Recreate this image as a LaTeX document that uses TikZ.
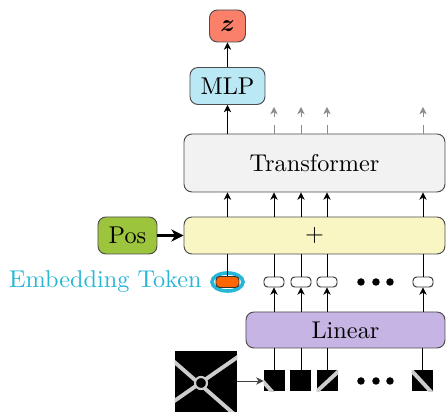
\documentclass[tikz,border=0pt]{standalone}
\usepackage{bm}
\usetikzlibrary{arrows.meta,shapes.geometric}
\newlength\pxu
\setlength\pxu{0.412pt}
\definecolor{zcol}{RGB}{250,128,106}
\definecolor{mlpcol}{RGB}{187,232,245}
\definecolor{trcol}{RGB}{242,242,242}
\definecolor{pluscol}{RGB}{250,246,196}
\definecolor{poscol}{RGB}{157,196,61}
\definecolor{lincol}{RGB}{198,181,228}
\definecolor{embcyan}{RGB}{38,182,214}
\definecolor{tokorange}{RGB}{255,102,0}
\definecolor{stripecol}{RGB}{205,205,205}
\begin{document}
\begin{tikzpicture}[x=0.412pt,y=-0.412pt,
  box/.style={draw=black!70, rounded corners=3.3pt, inner sep=0pt, line width=0.4pt},
  tokbox/.style={draw=black!80, rounded corners=1.5pt, inner sep=0pt, fill=white,
    minimum width=20\pxu, minimum height=10\pxu},
  patch/.style={fill=black, inner sep=0pt, minimum width=21\pxu, minimum height=21\pxu},
  dot/.style={circle, fill=black, inner sep=0pt, minimum size=7.5\pxu},
  conn/.style={draw=black, line width=0.4pt},
  arr/.style={conn, -{Stealth[length=3pt,width=3pt,inset=0.9pt]}},
  ghost/.style={draw=black!45, line width=0.4pt, dash pattern=on 3.7pt off 2.9pt,
    -{Stealth[length=3pt,width=3pt,inset=0.9pt]}},
  stripe/.style={draw=stripecol, line width=1.6pt},
]
\useasboundingbox (0,0) rectangle (446,412);

% main blocks
\node[box, fill=zcol, minimum width=36\pxu, minimum height=32\pxu] (z) at (227.5,26) {$\bm{z}$};
\node[box, fill=mlpcol, minimum width=75\pxu, minimum height=37\pxu] (mlp) at (227.5,86) {MLP};
\node[box, fill=trcol, minimum width=261\pxu, minimum height=58\pxu] (tr) at (314.5,163) {Transformer};
\node[box, fill=pluscol, minimum width=261\pxu, minimum height=37\pxu] (plus) at (314.5,235.5) {$+$};
\node[box, fill=poscol, minimum width=59\pxu, minimum height=37\pxu] (pos) at (127.5,235.5) {Pos};
\node[box, fill=lincol, minimum width=199\pxu, minimum height=36\pxu] (lin) at (345.5,330) {Linear};

% embedding token with highlight ring
\node[draw=embcyan, line width=1.5pt, ellipse, inner sep=0pt,
      minimum width=31\pxu, minimum height=18\pxu] (ring) at (227.5,282) {};
\node[tokbox, fill=tokorange, minimum width=23\pxu, minimum height=11\pxu] (emb) at (227.5,282) {};
\node[text=embcyan, anchor=east] (lbl) at (ring.west) {Embedding Token};

% patch tokens
\node[tokbox] (t1) at (274,282) {};
\node[tokbox] (t2) at (301,282) {};
\node[tokbox] (t3) at (327,282) {};
\node[tokbox] (t4) at (423,282) {};
\node[dot] (da1) at (361,282) {};
\node[dot] (da2) at (376,282) {};
\node[dot] (da3) at (390,282) {};

% image and its patches
\node[fill=black, inner sep=0pt, minimum width=62\pxu, minimum height=62\pxu] (img) at (206,382) {};
\begin{scope}
  \clip (img.south west) rectangle (img.north east);
  \draw[stripe] (171,359) -- (234,414);
  \draw[stripe] (242,354) -- (170,404);
  \draw[draw=stripecol, fill=black, line width=0.9pt] (201,383) circle (6);
\end{scope}

\node[patch] (p1) at (274.5,381) {};
\node[patch] (p2) at (301,381) {};
\node[patch] (p3) at (327.5,381) {};
\node[patch] (p4) at (422.5,381) {};
\begin{scope}
  \clip (p1.south west) rectangle (p1.north east);
  \draw[stripe] (258,376) -- (276,396);
\end{scope}
\begin{scope}
  \clip (p3.south west) rectangle (p3.north east);
  \draw[stripe] (314,394) -- (341,369);
\end{scope}
\begin{scope}
  \clip (p4.south west) rectangle (p4.north east);
  \draw[stripe] (410,369) -- (434,395);
\end{scope}
\node[dot] (db1) at (361,381) {};
\node[dot] (db2) at (376,381) {};
\node[dot] (db3) at (390,381) {};

% connectors
\draw[arr] (mlp) -- (z);
\draw[arr] (mlp |- tr.north) -- (mlp);
\draw[draw=black!75, line width=0.4pt, -{Stealth[length=3pt,width=3pt,inset=0.9pt]}] (img.east |- p1) -- (p1);
\draw[line width=1.4pt, -{Stealth[length=5pt,width=5pt,inset=1.5pt]}] (pos) -- (plus);

\foreach \t in {emb,t1,t2,t3,t4}{
  \draw[arr] (\t |- plus.north) -- (\t |- tr.south);
  \draw[conn] (\t.north) -- (\t |- plus.south);
}
\foreach \t/\p in {t1/p1,t2/p2,t3/p3,t4/p4}{
  \draw[arr] (\t |- lin.north) -- (\t.south);
  \draw[conn] (\p.north) -- (\p |- lin.south);
}

% outputs of the patch tokens that are not used
\coordinate (g1) at (274,107);
\coordinate (g2) at (301,107);
\coordinate (g3) at (327,107);
\coordinate (g4) at (423,107);
\foreach \g in {g1,g2,g3,g4}{
  \draw[ghost] (\g |- tr.north) -- (\g);
}
\end{tikzpicture}
\end{document}
